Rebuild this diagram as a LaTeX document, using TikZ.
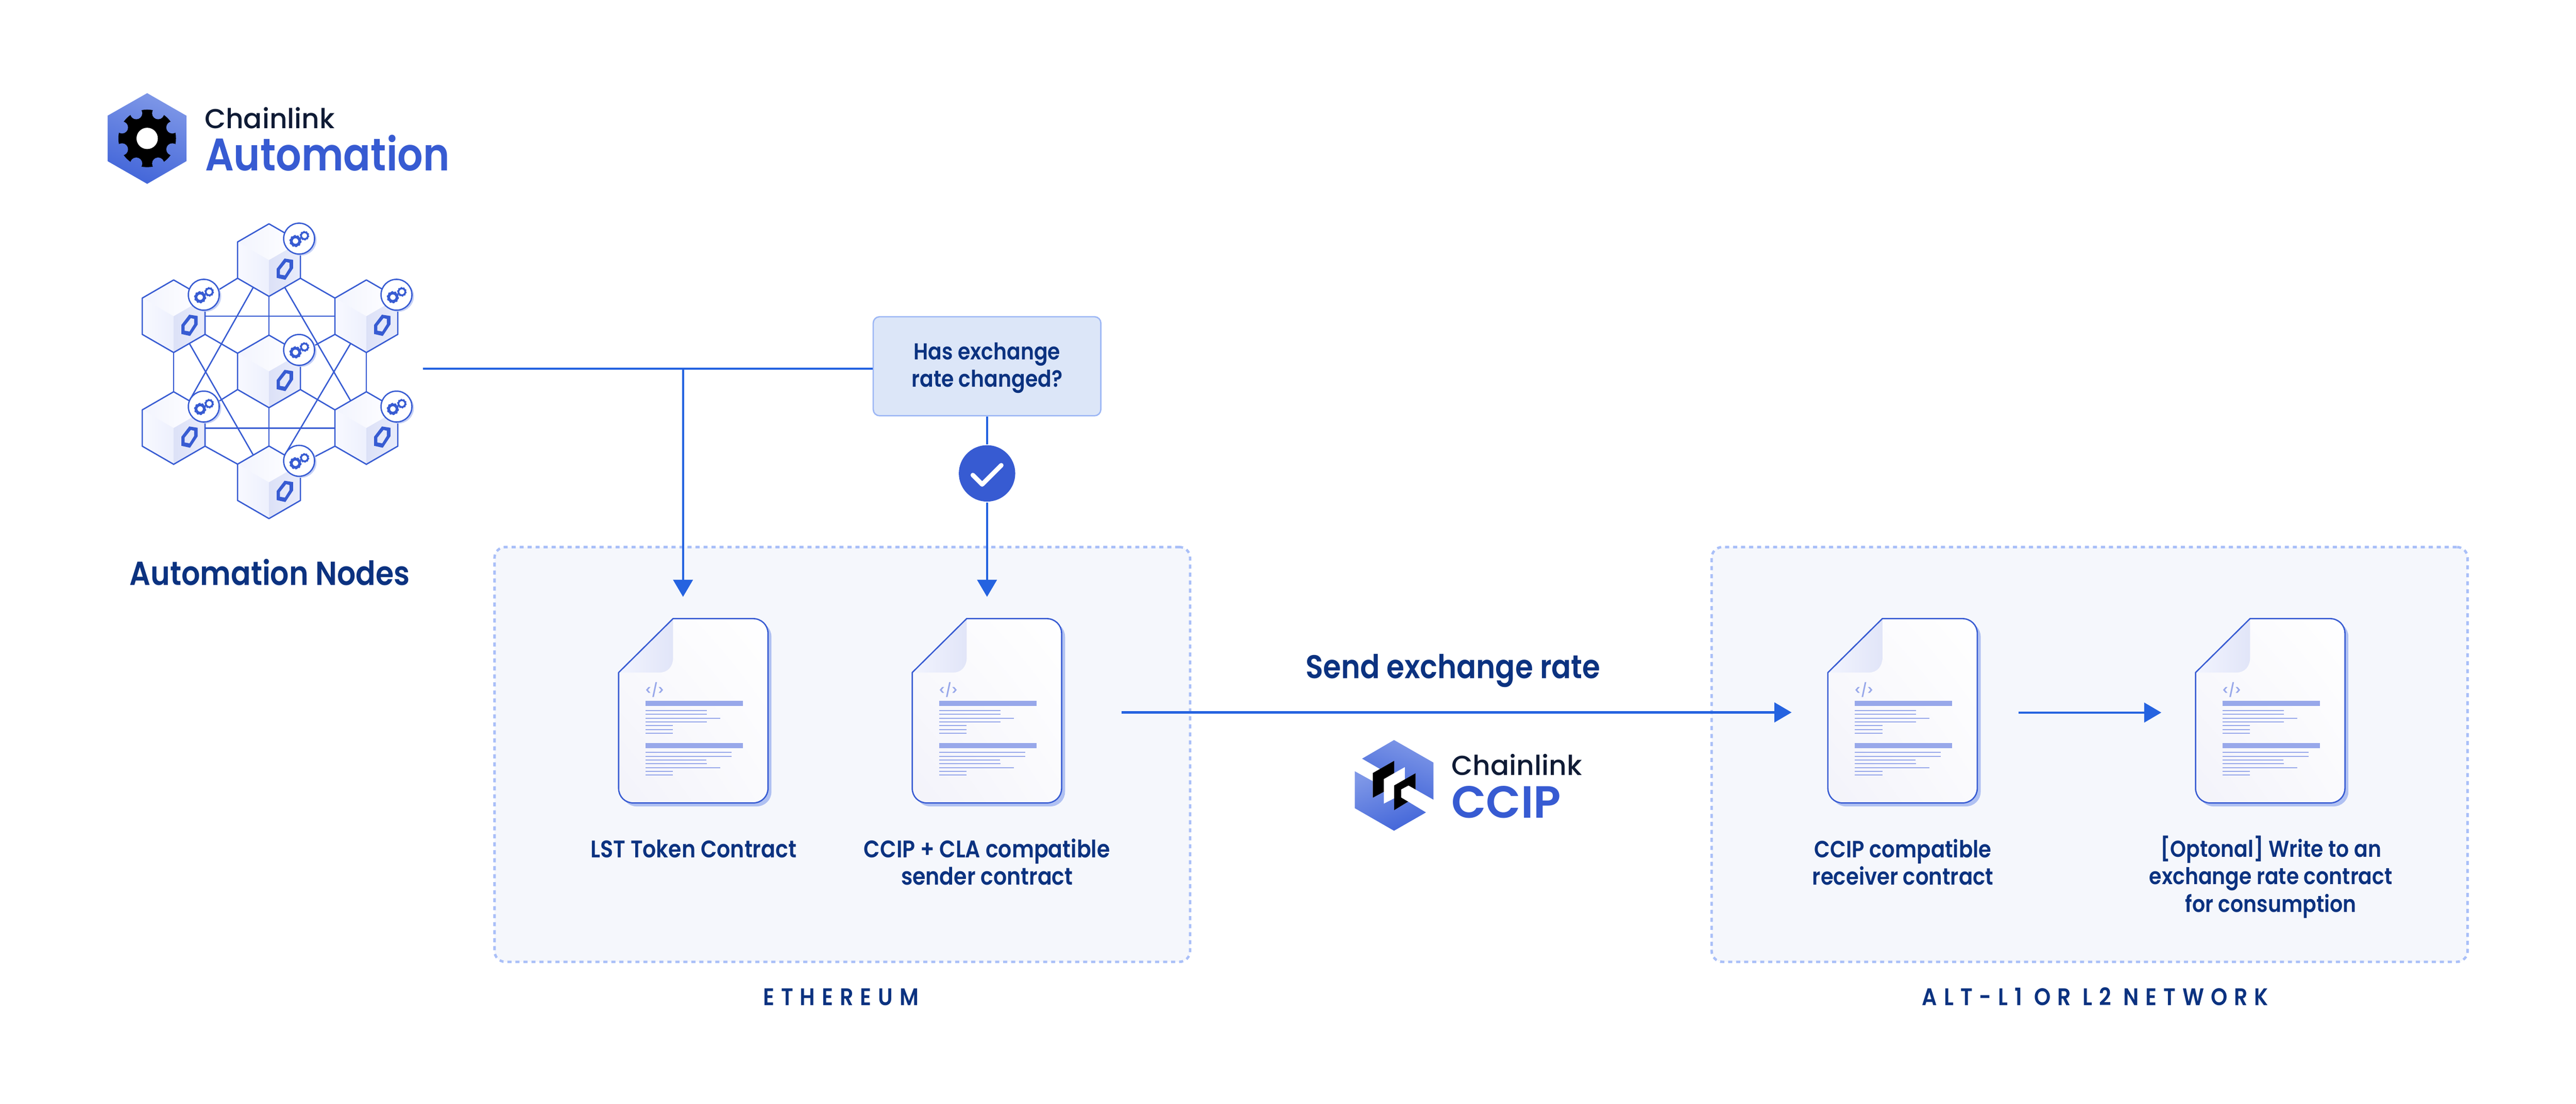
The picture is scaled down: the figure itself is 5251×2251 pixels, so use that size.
\documentclass[tikz,border=0pt]{standalone}
\usepackage{fontspec}
\setmainfont{Poppins}[UprightFont=* SemiBold,BoldFont=* Bold,FakeStretch=0.88]
\newfontfamily\logomed{Poppins}[UprightFont=* Medium,BoldFont=* SemiBold]
\newfontfamily\logosemi{Poppins}[UprightFont=* SemiBold,BoldFont=* Bold]
\usetikzlibrary{arrows.meta,shadings}
\pgfdeclarelayer{bg}
\pgfsetlayers{bg,main}
\definecolor{royal}{HTML}{375BD2}
\definecolor{flowblue}{HTML}{2563E0}
\definecolor{navy}{HTML}{0B3280}
\definecolor{inkdark}{HTML}{0F1B35}
\definecolor{panelfill}{HTML}{F5F7FC}
\definecolor{paneldash}{HTML}{A9BFF8}
\definecolor{boxfill}{HTML}{DCE6F8}
\definecolor{boxline}{HTML}{9DB7F5}
\definecolor{docshadow}{HTML}{B0C1F2}
\definecolor{docline}{HTML}{98A8EA}
\definecolor{hexlight}{HTML}{7E97E7}
\definecolor{hexdark}{HTML}{4366D9}
\definecolor{F1}{HTML}{F2F4FE}
\definecolor{F2}{HTML}{F8F9FF}
\definecolor{F3}{HTML}{EDF0FD}
\definecolor{F4}{HTML}{DCE1F7}
\definecolor{F5}{HTML}{E9ECFB}
\definecolor{F6}{HTML}{C5D0F5}
\definecolor{D1}{HTML}{F3F3FA}
\definecolor{D2}{HTML}{FAFAFD}
\definecolor{D3}{HTML}{F2F4FE}
\definecolor{D4}{HTML}{E1E5F8}
\newcommand{\setfs}[2]{\fontsize{#1}{#2}\selectfont}
\tikzset{
  flow/.style={draw=flowblue,line width=.43pt},
  flowtip/.style={flow,-{Triangle[length=3.5pt,width=4pt]}},
  netline/.style={draw=royal,line width=.27pt},
  panelbox/.style={draw=paneldash,fill=panelfill,line width=.5pt,rounded corners=2.2pt,dash pattern=on .83pt off .8pt,inner sep=0pt},
  lbl/.style={font=\setfs{4.7pt}{5.6pt},text=navy,align=center,anchor=base,inner sep=0pt},
  netlabel/.style={font=\setfs{4.9pt}{5.6pt}\addfontfeature{LetterSpace=28},text=navy,anchor=base,inner sep=0pt},
  bigtxt/.style={font=\setfs{6.8pt}{7pt},text=navy,anchor=base,inner sep=0pt},
  logoink/.style={font=\logomed\setfs{5.6pt}{6pt},text=inkdark,anchor=base west,inner sep=0pt},
  logoblue/.style={font=\setfs{9.3pt}{10pt},text=royal,anchor=base west,inner sep=0pt},
  docedge/.style={draw=royal,line width=.27pt},
  docbar/.style={fill=docline},
  docrule/.style={draw=docline,line width=.2pt},
  cube/.pic={
    \coordinate (-t) at (0,-74); \coordinate (-ur) at (64,-37); \coordinate (-r) at (64,0);
    \coordinate (-lr) at (64,37); \coordinate (-b) at (0,74); \coordinate (-ll) at (-64,37);
    \coordinate (-l) at (-64,0); \coordinate (-ul) at (-64,-37);
    \coordinate (-mll) at (-32,55.5); \coordinate (-mlr) at (32,55.5);
    \coordinate (-mtl) at (-32,-55.5); \coordinate (-mtr) at (32,-55.5);
    \shade[left color=F1,right color=white] (0,-74) -- (64,-37) -- (0,0) -- (-64,-37) -- cycle;
    \shade[left color=F2,right color=F3] (-64,-37) -- (0,0) -- (0,74) -- (-64,37) -- cycle;
    \shade[left color=F4,right color=F5] (0,0) -- (64,-37) -- (64,37) -- (0,74) -- cycle;
    \draw[netline,line join=round] (0,-74) -- (64,-37) -- (64,37) -- (0,74) -- (-64,37) -- (-64,-37) -- cycle;
    \fill[royal,even odd rule] (31.7,-3.2) -- (49,-.5) -- (49,16.8) -- (33.4,40.2) -- (15.7,36.2) -- (15.7,17.8) -- cycle
      (35,3.8) -- (41.7,5.5) -- (41.7,16.2) -- (32.4,31.2) -- (22.4,29.5) -- (22.4,19.5) -- cycle;
    \fill[F6] (65.4,-40.8) circle[radius=31.5];
    \fill[white] (61.4,-43.8) circle[radius=31.5];
    \draw[netline] (61.4,-43.8) circle[radius=31.5];
    \draw[royal,line width=.56pt] (54,-38.8) circle[radius=8.5];
    \draw[royal,line width=.2pt,dash pattern=on .36pt off .362pt] (54,-38.8) circle[radius=11.5];
    \draw[royal,line width=.36pt] (72.4,-49.8) circle[radius=7];
    \draw[royal,line width=.14pt,dash pattern=on .285pt off .287pt] (72.4,-49.8) circle[radius=9.1];
  },
  docpage/.pic={
    \fill[docshadow,shift={(7,7)}] (111,0) -- (274,0) .. controls (291,0) and (304.5,13) .. (304.5,30) -- (304.5,346) .. controls (304.5,363) and (291,376) .. (274,376) -- (30,376) .. controls (13,376) and (0,363) .. (0,346) -- (0,110) -- cycle;
    \shade[lower left=D1,upper right=white,upper left=D2,lower right=D2] (111,0) -- (274,0) .. controls (291,0) and (304.5,13) .. (304.5,30) -- (304.5,346) .. controls (304.5,363) and (291,376) .. (274,376) -- (30,376) .. controls (13,376) and (0,363) .. (0,346) -- (0,110) -- cycle;
    \shade[left color=D3,right color=D4] (0,110) -- (111,0) -- (111,79) .. controls (111,98) and (100,110) .. (83,110) -- cycle;
    \draw[docedge,line join=round] (111,0) -- (274,0) .. controls (291,0) and (304.5,13) .. (304.5,30) -- (304.5,346) .. controls (304.5,363) and (291,376) .. (274,376) -- (30,376) .. controls (13,376) and (0,363) .. (0,346) -- (0,110) -- cycle;
    \node[font=\setfs{2.7pt}{3pt},text=docline,inner sep=0pt] at (73.5,145) {</>};
    \fill[docbar] (55,168) rectangle (253,178.3);
    \fill[docbar] (55,253.3) rectangle (253,264);
    \foreach \yy/\ll in {187.3/125,195/125,203/152,210.3/125,218.3/56,226/56,234/56,273/175,280.6/175,288.3/124,296/125,304/152,311.6/56,319.3/56}
      \draw[docrule] (55,\yy) -- ++(\ll,0);
  }
}
\begin{document}
\begin{tikzpicture}[x=.1pt,y=-.1pt]
\useasboundingbox (0,0) rectangle (5251,2251);
\begin{pgfonlayer}{bg}
\fill[white] (0,0) rectangle (5251,2251);
\end{pgfonlayer}

% panels
\node[panelbox,minimum width=141.8pt,minimum height=84.6pt] (eth) at (1717,1538.7) {};
\node[panelbox,minimum width=154.1pt,minimum height=84.6pt] (alt) at (4259.5,1538.7) {};

% logo: Automation
\shade[top color=hexlight,bottom color=hexdark,shading angle=-20] (300,190) -- (380,236) -- (380,328.7) -- (300,375) -- (219.3,328.7) -- (219.3,236) -- cycle;
\fill[black] (300,282.3) circle[radius=58.7];
\begin{scope}
  \clip (277.7,231) circle[radius=12.3] (322.3,231) circle[radius=12.3]
        (351.3,260) circle[radius=12.3] (351.3,304.6) circle[radius=12.3]
        (322.3,333.6) circle[radius=12.3] (277.7,333.6) circle[radius=12.3]
        (248.7,304.6) circle[radius=12.3] (248.7,260) circle[radius=12.3];
  \shade[top color=hexlight,bottom color=hexdark,shading angle=-20] (300,190) -- (380,236) -- (380,328.7) -- (300,375) -- (219.3,328.7) -- (219.3,236) -- cycle;
\end{scope}
\fill[white] (300,282.3) circle[radius=21.7];
\node[logoink] (chl1) at (415,262) {Chainlink};
\node[logoblue] (auto) at (416,348) {Automation};

% network
\pic (T) at (548.3,530.5) {cube};
\pic (LU) at (354,645) {cube};
\pic (RU) at (746.8,645) {cube};
\pic (C) at (548.3,757.5) {cube};
\pic (LD) at (354,873) {cube};
\pic (RD) at (746.8,873) {cube};
\pic (B) at (548.3,983.7) {cube};
\begin{pgfonlayer}{bg}
\draw[netline] (T-ll) -- (LU-ur);
\draw[netline] (T-lr) -- (RU-ul);
\draw[netline] (T-b) -- (C-t);
\draw[netline] (LU-lr) -- (C-ul);
\draw[netline] (RU-ll) -- (C-ur);
\draw[netline] (LU-b) -- (LD-t);
\draw[netline] (RU-b) -- (RD-t);
\draw[netline] (C-ll) -- (LD-ur);
\draw[netline] (C-lr) -- (RD-ul);
\draw[netline] (C-b) -- (B-t);
\draw[netline] (LD-lr) -- (B-ul);
\draw[netline] (RD-ll) -- (B-ur);
\draw[netline] (LU-r) -- (RU-l);
\draw[netline] (LD-r) -- (RD-l);
\draw[netline] (T-mll) -- (LD-mtr);
\draw[netline] (T-mlr) -- (RD-mtl);
\draw[netline] (LU-mlr) -- (B-mtl);
\draw[netline] (RU-mll) -- (B-mtr);
\end{pgfonlayer}
\node[bigtxt] (nodestxt) at (550,1194) {Automation Nodes};

% connectors and labels
\coordinate (netout) at (862,751.7);
\coordinate (branch) at (1392.3,751.7);
\coordinate (lstin) at (1392.3,1217.3);
\coordinate (senderin) at (2012,1217.3);
\coordinate (sendout) at (2286,1453);
\coordinate (recvin) at (3652,1453);
\coordinate (relayout) at (4115,1453.3);
\coordinate (relayin) at (4405.7,1453.3);

\node[draw=boxline,fill=boxfill,line width=.27pt,rounded corners=1.3pt,minimum width=46.4pt,minimum height=20.2pt,inner sep=0pt,font=\setfs{4.7pt}{5.6pt},text=navy,align=center] (box) at (2012,747) {\rule{0pt}{4.2pt}Has exchange\\rate changed?};
\node[circle,fill=royal,minimum size=11.5pt,inner sep=0pt] (okc) at (2012,965.5) {};
\draw[white,line width=.93pt,line cap=round,line join=round] (1983,969) -- (2002,988) -- (2041,949);

\draw[flow] (netout) -- (netout -| box.west);
\draw[flowtip] (branch) -- (lstin);
\draw[flow] (box.south) -- (okc.north);
\draw[flowtip] (okc.south) -- (senderin);
\draw[flowtip] (sendout) -- (recvin);
\draw[flowtip] (relayout) -- (relayin);

% documents
\pic at (1261,1261.7) {docpage};
\pic at (1859.5,1261.7) {docpage};
\pic at (3726,1261.7) {docpage};
\pic at (4475.5,1261.7) {docpage};

\node[lbl,font=\setfs{4.9pt}{5.6pt}] (l1) at (1414,1749) {LST Token Contract};
\node[lbl,font=\setfs{4.9pt}{5.55pt}] (l2) at (2012,1804.5) {CCIP + CLA compatible\\sender contract};
\node[lbl,font=\setfs{4.8pt}{5.55pt}] (l3) at (3879,1804.5) {CCIP compatible\\receiver contract};
\node[lbl] (l4) at (4629,1860) {[Optonal] Write to an\\exchange rate contract\\for consumption};
\node[netlabel] (n1) at (1714,2050) {ETHEREUM};
\node[netlabel] (n2) at (4271,2050) {ALT-L1 OR L2 NETWORK};
\node[bigtxt,font=\setfs{6.7pt}{7pt}] (sendtxt) at (2962,1384) {Send exchange rate};

% logo: CCIP
\begin{scope}[shift={(2700,1480)},xscale=.3827,yscale=.3333]
  \shade[top color=hexlight,bottom color=hexdark,shading angle=-20] (200,202) -- (370,88) -- (580,226) -- (580,453) -- (485,391) -- (485,291) -- (428,330) -- (428,253) -- (371,290) -- (371,215) -- (295,265) -- cycle;
  \shade[top color=hexlight,bottom color=hexdark,shading angle=20] (161,279) -- (257,340) -- (257,441) -- (315,405) -- (315,478) -- (371,445) -- (371,517) -- (445,465) -- (540,531) -- (370,643) -- (161,505) -- cycle;
  \fill[black] (257,290) -- (371,215) -- (371,290) -- (315,327) -- (315,405) -- (257,441) -- cycle;
  \fill[black] (371,366) -- (485,291) -- (485,391) -- (447,366) -- (408,390) -- (408,440) -- (445,465) -- (371,517) -- cycle;
\end{scope}
\node[logoink] (chl2) at (2957,1581) {Chainlink};
\node[logoblue,font=\logosemi\setfs{9.2pt}{10pt}] (ccip) at (2957,1668) {CCIP};
\end{tikzpicture}
\end{document}
